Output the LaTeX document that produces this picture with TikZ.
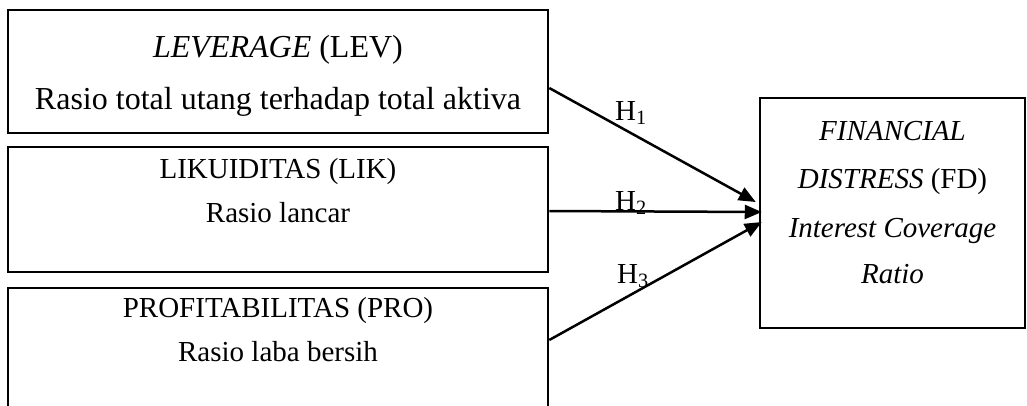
\documentclass[tikz,border=0pt]{standalone}
\usepackage{fontspec}
\setmainfont{Liberation Serif}
\usetikzlibrary{arrows.meta}
\begin{document}
\begin{tikzpicture}[x=1pt,y=-1pt,
  varbox/.style={draw=black,line width=2.5pt,rectangle,inner sep=0pt},
  txt/.style={anchor=base,inner sep=0pt,font=\fontsize{29}{34}\selectfont},
  bigtxt/.style={anchor=base,inner sep=0pt,font=\fontsize{32}{38}\selectfont},
  hlabel/.style={anchor=base west,inner sep=0pt,font=\fontsize{29}{34}\selectfont},
  link/.style={line width=2.5pt,-{Triangle[length=17pt,width=14pt]}}]
\useasboundingbox (0,0) rectangle (1027,405);

% independent variables
\node[varbox,minimum width=540pt,minimum height=123pt] (lev) at (278,71.5) {};
\node[bigtxt] (levA) at (278,57) {\textit{LEVERAGE} (LEV)};
\node[bigtxt] (levB) at (278,109) {Rasio total utang terhadap total aktiva};

\node[varbox,minimum width=540pt,minimum height=125pt] (lik) at (278,209.5) {};
\node[txt] (likA) at (278,178) {LIKUIDITAS (LIK)};
\node[txt] (likB) at (278,222) {Rasio lancar};

\node[varbox,minimum width=540pt,minimum height=132pt] (pro) at (278,354) {};
\node[txt] (proA) at (278,317) {PROFITABILITAS (PRO)};
\node[txt] (proB) at (278,361) {Rasio laba bersih};

% dependent variable
\node[varbox,minimum width=265pt,minimum height=230pt] (fd) at (892.5,213) {};
\node[txt] (fdA) at (892.5,140) {\textit{FINANCIAL}};
\node[txt] (fdB) at (892.5,188) {\textit{DISTRESS} (FD)};
\node[txt] (fdC) at (892.5,237) {\textit{Interest Coverage}};
\node[txt] (fdD) at (892.5,283) {\textit{Ratio}};

% hypothesis labels
\node[hlabel] (h1) at (615,120) {H\textsubscript{1}};
\node[hlabel] (h2) at (615,210) {H\textsubscript{2}};
\node[hlabel] (h3) at (617,283) {H\textsubscript{3}};

% hypothesised effects
\draw[link] ([yshift=-16.5pt]lev.east) -- ([xshift=-3pt,yshift=11pt]fd.west);
\draw[link] ([yshift=-1.5pt]lik.east) -- ([xshift=3pt,yshift=1pt]fd.west);
\draw[link] ([yshift=14pt]pro.east) -- ([xshift=3pt,yshift=-9pt]fd.west);
\end{tikzpicture}
\end{document}
